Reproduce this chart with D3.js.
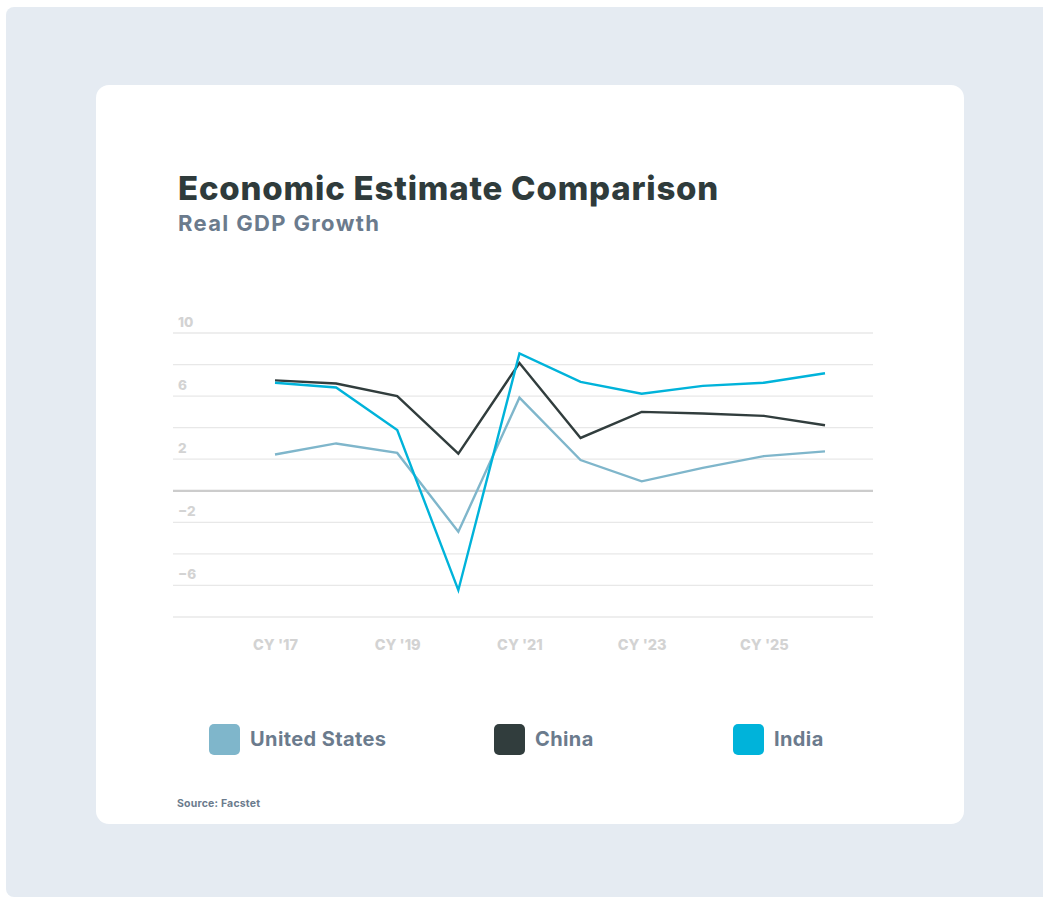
<!DOCTYPE html>
<html><head><meta charset="utf-8">
<script src="https://cdn.jsdelivr.net/npm/d3@7"></script>
<style>
html,body{margin:0;padding:0;background:#fff;}
svg{display:block;}
text{font-family:Inter, "Noto Sans", sans-serif;}
</style></head>
<body><svg id="chart" width="1043" height="898"></svg>
<script>
const years = ["2017","2018","2019","2020","2021","2022","2023","2024","2025","2026"];
const tickLabels = {"2017":"CY '17","2019":"CY '19","2021":"CY '21","2023":"CY '23","2025":"CY '25"};
const usValues    = [2.3, 3.0, 2.4, -2.6, 5.9, 1.95, 0.6, 1.45, 2.2, 2.5];
const chinaValues = [7.0, 6.8, 6.0, 2.35, 8.1, 3.35, 5.0, 4.9, 4.75, 4.15];
const indiaValues = [6.85, 6.55, 3.85, -6.3, 8.7, 6.9, 6.15, 6.65, 6.85, 7.45];
const seriesNames = ["United States","China","India"];
const seriesColors = ["#7fb6cb","#313d3d","#00b3da"];
const yTickValues = [10, 6, 2, -2, -6];
const gridValues = [10, 8, 6, 4, 2, 0, -2, -4, -6, -8];

const series = [
  {name: seriesNames[0], color: seriesColors[0], values: usValues},
  {name: seriesNames[1], color: seriesColors[1], values: chinaValues},
  {name: seriesNames[2], color: seriesColors[2], values: indiaValues}
];

const svg = d3.select("#chart");
svg.append("rect").attr("x",6).attr("y",7).attr("width",1060).attr("height",890)
  .attr("rx",8).attr("fill","#e5ebf2");
svg.append("rect").attr("x",96).attr("y",85).attr("width",868).attr("height",739)
  .attr("rx",13).attr("fill","#ffffff");

svg.append("text").attr("x",178).attr("y",200).text("Economic Estimate Comparison")
  .attr("font-size",33).attr("font-weight",800).attr("fill","#2f3b3b").attr("letter-spacing",0.8);
svg.append("text").attr("x",178).attr("y",231).text("Real GDP Growth")
  .attr("font-size",22).attr("font-weight",700).attr("fill","#6b7b8d").attr("letter-spacing",1.35);

const x = d3.scalePoint().domain(years).range([275, 825]);
const y = d3.scaleLinear().domain([-8, 10]).range([617, 333]);
const plotLeft = 173, plotRight = 873;

const g = svg.append("g");
g.selectAll("line.grid").data(gridValues.filter(v => v !== 0)).join("line")
  .attr("class","grid")
  .attr("x1",plotLeft).attr("x2",plotRight)
  .attr("y1",d => y(d)).attr("y2",d => y(d))
  .attr("stroke","#e8e8e8").attr("stroke-width",1.3);
g.append("line").attr("x1",plotLeft).attr("x2",plotRight).attr("y1",y(0)).attr("y2",y(0))
  .attr("stroke","#cccccc").attr("stroke-width",2.2);

g.selectAll("text.ylab").data(yTickValues).join("text")
  .attr("class","ylab")
  .attr("x",178).attr("y",d => y(d) - 6)
  .attr("font-size",13.5).attr("font-weight",800).attr("fill","#d3d3d3")
  .text(d => d < 0 ? "\u2212" + Math.abs(d) : d);

const xAxis = d3.axisBottom(x).tickValues(Object.keys(tickLabels)).tickFormat(d => tickLabels[d]).tickSize(0).tickPadding(0);
const ax = svg.append("g").attr("transform","translate(0,645)").call(xAxis);
ax.select(".domain").remove();
ax.selectAll("text").attr("font-size",14.5).attr("font-weight",800).attr("fill","#d3d3d3")
  .attr("font-family","Inter, sans-serif").attr("dy","0.35em");

const line = d3.line().x((d,i) => x(years[i])).y(d => y(d));
svg.selectAll("path.series").data(series).join("path")
  .attr("class","series")
  .attr("d", d => line(d.values))
  .attr("fill","none").attr("stroke", d => d.color).attr("stroke-width",2.4)
  .attr("stroke-linejoin","miter");

const legendX = [209, 494, 733];
const leg = svg.selectAll("g.leg").data(series).join("g").attr("class","leg")
  .attr("transform",(d,i) => `translate(${legendX[i]},724)`);
leg.append("rect").attr("width",31).attr("height",31).attr("rx",5).attr("fill",d => d.color);
leg.append("text").attr("x",41).attr("y",22).text(d => d.name)
  .attr("font-size",20).attr("font-weight",700).attr("fill","#6b7b8d").attr("letter-spacing",0.4);

svg.append("text").attr("x",177).attr("y",807).text("Source: Facstet")
  .attr("font-size",10.5).attr("font-weight",700).attr("fill","#6b7b8d").attr("letter-spacing",0.2);
</script>
</body></html>
